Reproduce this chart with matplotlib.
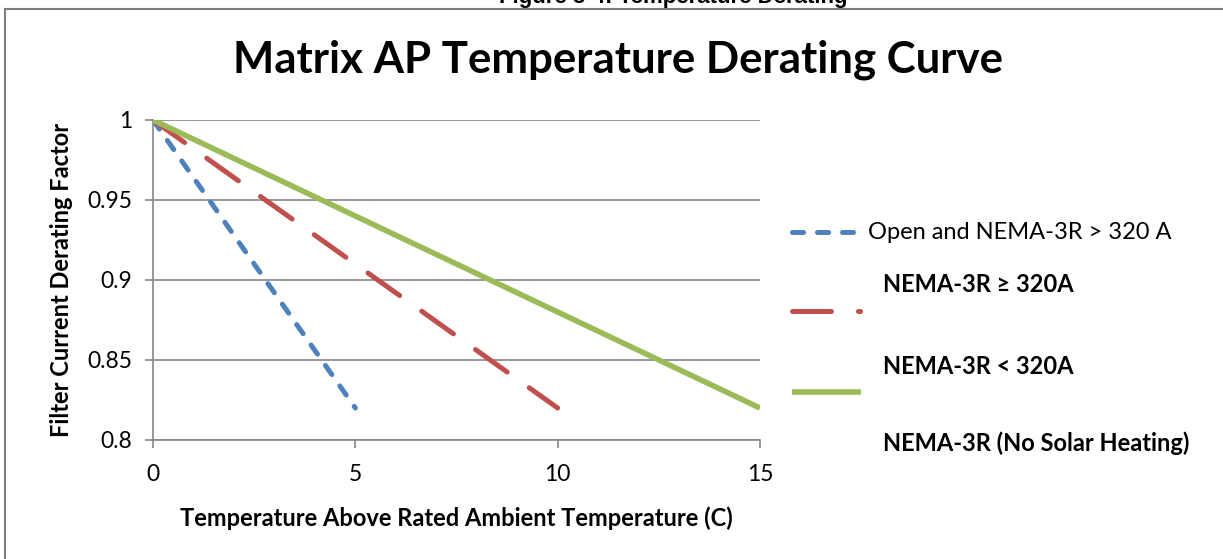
import matplotlib
matplotlib.use("Agg")
import matplotlib.pyplot as plt
from matplotlib.lines import Line2D

plt.rcParams["font.family"] = ["Lato", "DejaVu Sans"]
plt.rcParams["lines.scale_dashes"] = False

# data
temp_above = [0, 5, 10, 15]
open_nema = [1.0, 0.82]
open_x = [0, 5]
nema_ge = [1.0, 0.82]
nema_ge_x = [0, 10]
nema_lt = [1.0, 0.82]
nema_lt_x = [0, 15]
y_ticks = [0.8, 0.85, 0.9, 0.95, 1.0]
y_labels = ["0.8", "0.85", "0.9", "0.95", "1"]
legend_labels = ["Open and NEMA-3R > 320 A", "NEMA-3R \u2265 320A",
                 "NEMA-3R < 320A", "NEMA-3R (No Solar Heating)"]

W, H = 1223, 559
fig = plt.figure(figsize=(W / 100, H / 100), dpi=100)

def fx(px):
    return px / W

def fy(py):
    return 1 - py / H

blue = "#4F81BD"
red = "#C0504D"
green = "#9BBB59"
grid_c = "#868686"

# chart frame (runs off the right and bottom edge like the screenshot)
fig.add_artist(Line2D([fx(5), fx(5)], [fy(9), -0.1], color="#7f7f7f", lw=1.5))
fig.add_artist(Line2D([fx(5), 1.1], [fy(9), fy(9)], color="#7f7f7f", lw=1.5))

# caption cut off at top, as in the screenshot
fig.text(fx(673), fy(-3), "Figure 3-4: Temperature Derating", ha="center", va="center",
         fontsize=16, fontweight="bold", family=["Liberation Sans", "DejaVu Sans"])

ax = fig.add_axes([fx(153), fy(440), fx(760) - fx(153), fy(120) - fy(440)])

ax.plot(nema_lt_x, nema_lt, color=green, lw=4, solid_capstyle="butt", zorder=3)
ax.plot(nema_ge_x, nema_ge, color=red, lw=3.6, dashes=(28, 19.5), dash_capstyle="round", zorder=2)
ax.plot(open_x, open_nema, color=blue, lw=3.6, dashes=(8, 10), dash_capstyle="round", zorder=1)

ax.set_xlim(0, 15)
ax.set_ylim(0.8, 1.0)
ax.set_xticks(temp_above)
ax.set_xticklabels([str(t) for t in temp_above])
ax.set_yticks(y_ticks)
ax.set_yticklabels(y_labels)
ax.yaxis.grid(True, color=grid_c, lw=1.2)
ax.set_axisbelow(True)
for s in ["top", "right"]:
    ax.spines[s].set_visible(False)
for s in ["left", "bottom"]:
    ax.spines[s].set_color(grid_c)
    ax.spines[s].set_linewidth(1.2)
ax.tick_params(axis="both", colors=grid_c, length=6, width=1.2, direction="out",
               labelsize=16.5, labelcolor="black")
ax.tick_params(axis="y", pad=9)
ax.tick_params(axis="x", pad=11)

ax.set_xlabel("Temperature Above Rated Ambient Temperature (C)", fontsize=17,
              fontweight="bold", labelpad=16)
ax.set_ylabel("Filter Current Derating Factor", fontsize=17, fontweight="bold", labelpad=10)

fig.text(fx(618), fy(60), "Matrix AP Temperature Derating Curve", ha="center", va="center",
         fontsize=31.5, fontweight="bold")

# legend drawn by hand to keep the Excel spacing
fig.add_artist(Line2D([fx(792), fx(853)], [fy(232), fy(232)], color=blue, lw=3.6,
                      dashes=(8, 10), dash_capstyle="round"))
fig.add_artist(Line2D([fx(792), fx(860)], [fy(311), fy(311)], color=red, lw=3.6,
                      dashes=(28, 19.5), dash_capstyle="round"))
fig.add_artist(Line2D([fx(792), fx(861)], [fy(392), fy(392)], color=green, lw=4,
                      solid_capstyle="butt"))
fig.text(fx(868), fy(232), legend_labels[0], ha="left", va="center", fontsize=17)
fig.text(fx(883), fy(285), legend_labels[1], ha="left", va="center", fontsize=17, fontweight="bold")
fig.text(fx(883), fy(367), legend_labels[2], ha="left", va="center", fontsize=17, fontweight="bold")
fig.text(fx(883), fy(443), legend_labels[3], ha="left", va="center", fontsize=17, fontweight="bold")

fig.savefig("out.png", dpi=100)
